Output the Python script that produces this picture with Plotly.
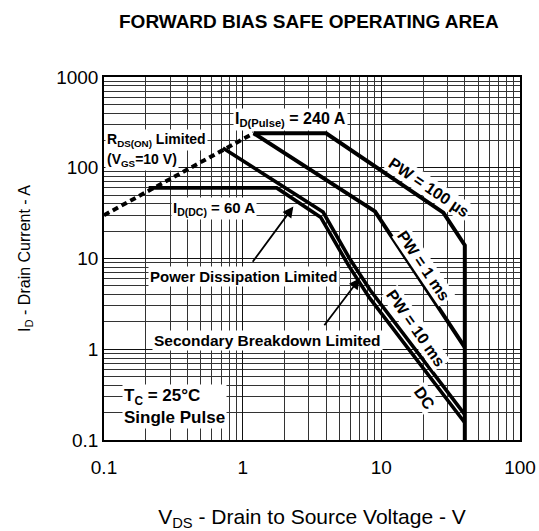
import numpy as np
import plotly.graph_objects as go

# ---- data ----
rds_v = [0.1, 1.2]
rds_i = [30, 240]

pw100_v = [1.2, 4.0, 28, 40, 40]
pw100_i = [240, 240, 32, 14, 0.1]

pw1ms_v = [1.2, 9.0, 40]
pw1ms_i = [240, 33, 1.05]

pw10ms_v = [0.72, 3.8, 5.9, 8.3, 40]
pw10ms_i = [165, 32.5, 10, 4.5, 0.19]

dc_v = [0.21, 1.76, 3.65, 5.8, 8.2, 40]
dc_i = [60, 60, 28.5, 8.4, 3.7, 0.155]

x_ticks = [0.1, 1, 10, 100]
x_ticktext = ["0.1", "1", "10", "100"]
y_ticks = [0.1, 1, 10, 100, 1000]
y_ticktext = ["0.1", "1", "10", "100", "1000"]

FONT = "Liberation Sans, Arial, sans-serif"

fig = go.Figure()
fig.add_trace(go.Scatter(x=rds_v, y=rds_i, mode="lines",
                         line=dict(color="black", width=4, dash="6px,4px")))
fig.add_trace(go.Scatter(x=pw100_v, y=pw100_i, mode="lines",
                         line=dict(color="black", width=4)))
fig.add_trace(go.Scatter(x=pw1ms_v, y=pw1ms_i, mode="lines",
                         line=dict(color="black", width=4)))
fig.add_trace(go.Scatter(x=pw10ms_v, y=pw10ms_i, mode="lines",
                         line=dict(color="black", width=3.6)))
fig.add_trace(go.Scatter(x=dc_v, y=dc_i, mode="lines",
                         line=dict(color="black", width=3.6)))

L = np.log10


def label(text, x, y, angle=0, align="center", xanchor="center", size=15):
    fig.add_annotation(x=L(x), y=L(y), xref="x", yref="y", text=text,
                       showarrow=False, textangle=angle, align=align,
                       xanchor=xanchor, yanchor="middle",
                       bgcolor="white", borderpad=1,
                       font=dict(family=FONT, size=size, color="black"))


def arrow(x0, y0, x1, y1):
    fig.add_annotation(x=L(x1), y=L(y1), ax=L(x0), ay=L(y0),
                       xref="x", yref="y", axref="x", ayref="y", text="",
                       showarrow=True, arrowhead=2, arrowsize=1.2,
                       arrowwidth=1.8, arrowcolor="black")


label("<b>I<sub>D(Pulse)</sub> = 240 A</b>", 2.2, 340, size=16)
label("<b>R<sub>DS(ON)</sub> Limited</b>", 0.102, 200,
      align="left", xanchor="left", size=14)
label("<b>(V<sub>GS</sub>=10 V)</b>", 0.102, 122,
      align="left", xanchor="left", size=14)
label("<b>I<sub>D(DC)</sub> = 60 A</b>", 0.62, 36, size=15)
label("<b>PW = 100 µs</b>", 22, 60, angle=34, size=16)
label("<b>PW = 1 ms</b>", 20.0, 8.3, angle=56, size=16)
label("<b>PW = 10 ms</b>", 17.5, 1.72, angle=55, size=16)
label("<b>DC</b>", 20.6, 0.29, angle=55, size=16)
label("<b>Power Dissipation Limited</b>", 1.03, 6.3, size=15)
label("<b>Secondary Breakdown Limited</b>", 1.5, 1.25, size=15.5)
label("<b>T<sub>C</sub> = 25°C<br>Single Pulse</b>", 0.134, 0.235,
      align="left", xanchor="left", size=17)

arrow(1.16, 8.85, 2.32, 37.3)
arrow(3.81, 1.77, 7.0, 6.05)

grid_major = "#111111"
grid_minor = "#333333"

fig.update_xaxes(type="log", range=[-1, 2], tickvals=x_ticks, ticktext=x_ticktext,
                 showgrid=True, gridcolor=grid_major, gridwidth=1,
                 minor=dict(dtick="D1", showgrid=True, gridcolor=grid_minor, gridwidth=1),
                 showline=True, linecolor="black", linewidth=1.5, mirror=True,
                 ticks="", ticklabelstandoff=9, automargin=False,
                 tickfont=dict(family=FONT, size=19, color="black"),
                 tickprefix="<b>", ticksuffix="</b>",
                 title=dict(text="V<sub>DS</sub> - Drain to Source Voltage - V",
                            font=dict(family=FONT, size=21, color="black"), standoff=38),
                 zeroline=False)
fig.update_yaxes(type="log", range=[-1, 3], tickvals=y_ticks, ticktext=y_ticktext,
                 showgrid=True, gridcolor=grid_major, gridwidth=1,
                 minor=dict(dtick="D1", showgrid=True, gridcolor=grid_minor, gridwidth=1),
                 showline=True, linecolor="black", linewidth=1.5, mirror=True,
                 ticks="", automargin=False,
                 tickfont=dict(family=FONT, size=19, color="black"),
                 tickprefix="<b>", ticksuffix="</b>",
                 title=dict(text="I<sub>D</sub> - Drain Current - A",
                            font=dict(family=FONT, size=16, color="black"), standoff=22),
                 zeroline=False)

fig.update_layout(
    width=539, height=531,
    margin=dict(l=104, r=19, t=77, b=91),
    paper_bgcolor="white", plot_bgcolor="white",
    showlegend=False,
    title=dict(text="<b>FORWARD BIAS SAFE OPERATING AREA</b>",
               x=0.573, xanchor="center", y=0.959, yanchor="middle",
               font=dict(family=FONT, size=19, color="black")),
)

# remove the page's default body margin so the 539x531 figure fills the window
fig.write_html("out.html",
               config={"displayModeBar": False},
               post_script="document.body.style.margin='0';"
                           "document.body.style.overflow='hidden';")
